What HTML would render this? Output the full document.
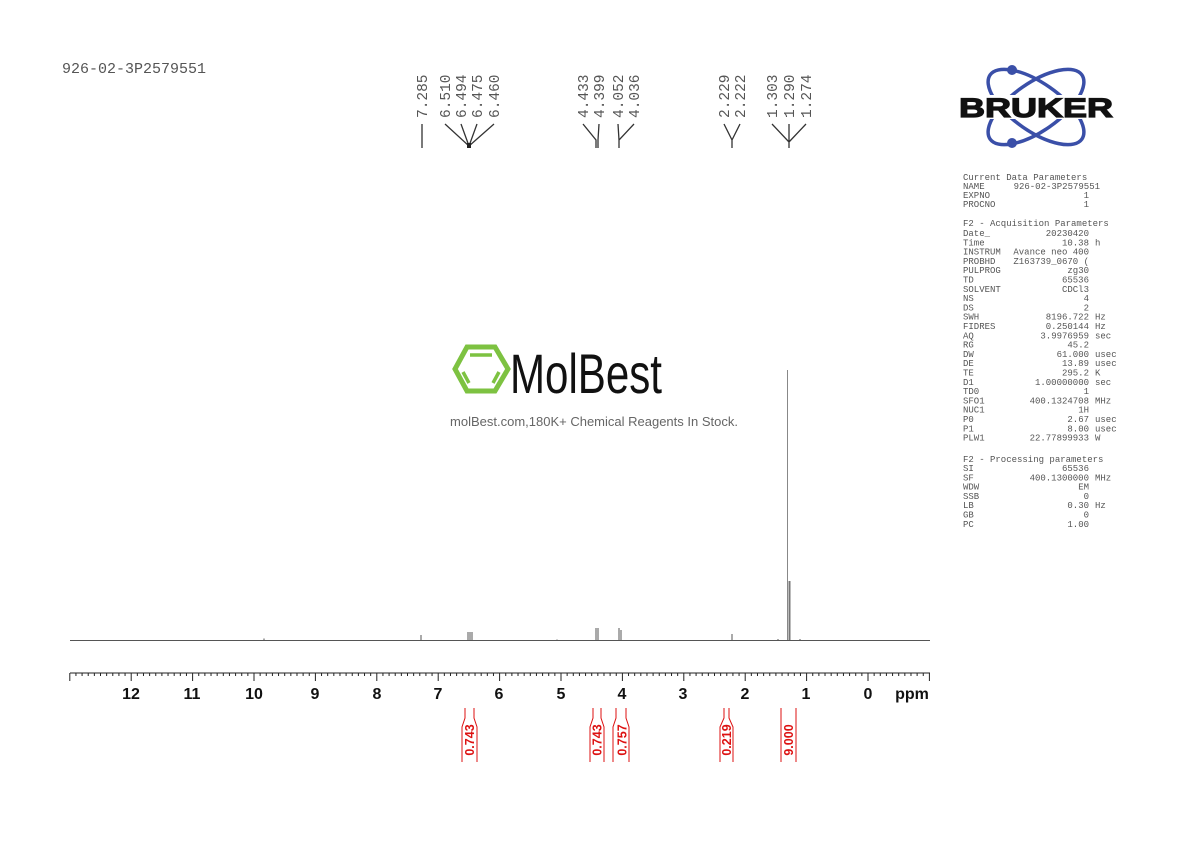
<!DOCTYPE html>
<html><head><meta charset="utf-8"><style>
body{margin:0;background:#fff;}
svg{display:block}
.m{font-family:"Liberation Mono",monospace;fill:#555}
</style></head><body>
<svg width="1190" height="842" viewBox="0 0 1190 842" xmlns="http://www.w3.org/2000/svg">
<rect width="1190" height="842" fill="#fff"/>
<text x="62" y="73" class="m" font-size="15" fill="#666">926-02-3P2579551</text>

<!-- peak labels -->
<g class="m" font-size="14.5">
<text transform="translate(427,118) rotate(-90)">7.285</text>
<text transform="translate(450,118) rotate(-90)">6.510</text>
<text transform="translate(466,118) rotate(-90)">6.494</text>
<text transform="translate(482,118) rotate(-90)">6.475</text>
<text transform="translate(499,118) rotate(-90)">6.460</text>
<text transform="translate(588,118) rotate(-90)">4.433</text>
<text transform="translate(604,118) rotate(-90)">4.399</text>
<text transform="translate(623,118) rotate(-90)">4.052</text>
<text transform="translate(639,118) rotate(-90)">4.036</text>
<text transform="translate(729,118) rotate(-90)">2.229</text>
<text transform="translate(745,118) rotate(-90)">2.222</text>
<text transform="translate(777,118) rotate(-90)">1.303</text>
<text transform="translate(794,118) rotate(-90)">1.290</text>
<text transform="translate(811,118) rotate(-90)">1.274</text>
</g>
<g stroke="#333" stroke-width="1.3" fill="none">
<path d="M422 124V148"/>
<path d="M445 124L469 146V148M461 124L469 146M477 124L469 146M494 124L469 146"/>
<rect x="467" y="143" width="4" height="5" fill="#222" stroke="none"/>
<path d="M583 124L596 140V148M599 124L598 140V148"/>
<path d="M634 124L619 140V148M618 124L619 140"/>
<path d="M724 124L732 140V148M740 124L732 140"/>
<path d="M772 124L789 142V148M789 124V148M806 124L789 142"/>
</g>

<!-- spectrum -->
<g stroke="#555" stroke-width="1" fill="none">
<path d="M70 640.5H930"/>
<path d="M264 640V638.5M421 640V635M468 640V632M470 640V632M472 640V632M557 640.5V639.5M596 640V628M598 640V628M619 640V628M621 640V630M732 640V634M778 640V639M800 640V639"/>
<path d="M787.5 640V370" stroke="#888"/>
<path d="M789.5 640V581" stroke-width="2" stroke="#777"/>
</g>

<!-- axis -->
<g stroke="#222" stroke-width="1">
<path d="M70 673H930"/>
</g>
<g id="tk" stroke="#222" stroke-width="1"></g>
<g font-family="Liberation Sans, sans-serif" font-weight="bold" font-size="16" fill="#111" text-anchor="middle">
<text x="131" y="699">12</text><text x="192" y="699">11</text><text x="254" y="699">10</text>
<text x="315" y="699">9</text><text x="377" y="699">8</text><text x="438" y="699">7</text>
<text x="499" y="699">6</text><text x="561" y="699">5</text><text x="622" y="699">4</text>
<text x="683" y="699">3</text><text x="745" y="699">2</text><text x="806" y="699">1</text>
<text x="868" y="699">0</text><text x="912" y="699">ppm</text>
</g>

<!-- integrals -->
<g stroke="#d11" stroke-width="1" fill="none">
<path d="M465 708V718L462 727V762M474 708V718L477 727V762"/>
<path d="M593 708V718L590 727V762M601 708V718L604 727V762"/>
<path d="M616 708V718L613 727V762M626 708V718L629 727V762"/>
<path d="M724 708V718L720 727V762M729 708V718L733 727V762"/>
<path d="M781 708V762M796 708V762"/>
</g>
<g font-family="Liberation Sans, sans-serif" font-weight="bold" font-size="12.5" fill="#d11" text-anchor="middle">
<text transform="translate(474,740) rotate(-90)">0.743</text>
<text transform="translate(601.5,740) rotate(-90)">0.743</text>
<text transform="translate(626.5,740) rotate(-90)">0.757</text>
<text transform="translate(731,740) rotate(-90)">0.219</text>
<text transform="translate(793,740) rotate(-90)">9.000</text>
</g>

<!-- MolBest -->
<g stroke="#7dc241" fill="none" stroke-width="5">
<path d="M467 347L495 347L508 369L495 391L467 391L455 369Z"/>
<path d="M470 355L492 355M463 372L469 383M499 372L493 383" stroke-width="3.5"/>
</g>
<text x="510" y="393" font-family="Liberation Sans, sans-serif" font-size="56" fill="#111" textLength="152" lengthAdjust="spacingAndGlyphs">MolBest</text>
<text x="594" y="426" font-family="Liberation Sans, sans-serif" font-size="13" fill="#666" text-anchor="middle">molBest.com,180K+ Chemical Reagents In Stock.</text>

<!-- Bruker -->
<g stroke="#3a4fa8" stroke-width="3.5" fill="none">
<ellipse cx="1036" cy="107" rx="56" ry="24" transform="rotate(35 1036 107)"/>
<ellipse cx="1036" cy="107" rx="56" ry="24" transform="rotate(-35 1036 107)"/>
</g>
<circle cx="1012" cy="70" r="5" fill="#3a4fa8"/>
<circle cx="1012" cy="143" r="5" fill="#3a4fa8"/>
<rect x="958" y="95" width="158" height="24" fill="#fff"/>
<text x="959" y="117" font-family="Liberation Sans, sans-serif" font-weight="bold" font-size="27" fill="#111" stroke="#111" stroke-width="1.2" textLength="154" lengthAdjust="spacingAndGlyphs">BRUKER</text>

<!-- params -->
<g class="m" font-size="9" fill="#555">
<text x="963" y="180">Current Data Parameters</text>
<text x="963" y="189">NAME</text><text x="1100" y="189" text-anchor="end">926-02-3P2579551</text>
<text x="963" y="198">EXPNO</text><text x="1089" y="198" text-anchor="end">1</text>
<text x="963" y="207">PROCNO</text><text x="1089" y="207" text-anchor="end">1</text>
<text x="963" y="226">F2 - Acquisition Parameters</text>
</g>
<g class="m" font-size="9" fill="#555" id="p"></g>
<g class="m" font-size="9" fill="#555">
<text x="963" y="462">F2 - Processing parameters</text>
</g>
<g class="m" font-size="9" fill="#555" id="q"></g>
<script>
var ns="http://www.w3.org/2000/svg";
var tk=document.getElementById("tk");
for(var i=-10;i<=130;i++){var x=868-i*6.14;var l=document.createElementNS(ns,"line");var major=(i%10==0);l.setAttribute("x1",x);l.setAttribute("x2",x);l.setAttribute("y1",673);l.setAttribute("y2",(major||i==130||i==-10)?681:676);tk.appendChild(l);}
function rows(id,y0,arr){var g=document.getElementById(id);arr.forEach(function(r,k){var y=y0+k*9.3;var a=document.createElementNS(ns,"text");a.setAttribute("x",963);a.setAttribute("y",y);a.textContent=r[0];g.appendChild(a);var b=document.createElementNS(ns,"text");b.setAttribute("x",1089);b.setAttribute("y",y);b.setAttribute("text-anchor","end");b.textContent=r[1];g.appendChild(b);if(r[2]){var c=document.createElementNS(ns,"text");c.setAttribute("x",1095);c.setAttribute("y",y);c.textContent=r[2];g.appendChild(c);}});}
rows("p",236,[["Date_","20230420"],["Time","10.38","h"],["INSTRUM","Avance neo 400"],["PROBHD","Z163739_0670 ("],["PULPROG","zg30"],["TD","65536"],["SOLVENT","CDCl3"],["NS","4"],["DS","2"],["SWH","8196.722","Hz"],["FIDRES","0.250144","Hz"],["AQ","3.9976959","sec"],["RG","45.2"],["DW","61.000","usec"],["DE","13.89","usec"],["TE","295.2","K"],["D1","1.00000000","sec"],["TD0","1"],["SFO1","400.1324708","MHz"],["NUC1","1H"],["P0","2.67","usec"],["P1","8.00","usec"],["PLW1","22.77899933","W"]]);
rows("q",471,[["SI","65536"],["SF","400.1300000","MHz"],["WDW","EM"],["SSB","0"],["LB","0.30","Hz"],["GB","0"],["PC","1.00"]]);
</script>
</svg>
</body></html>
